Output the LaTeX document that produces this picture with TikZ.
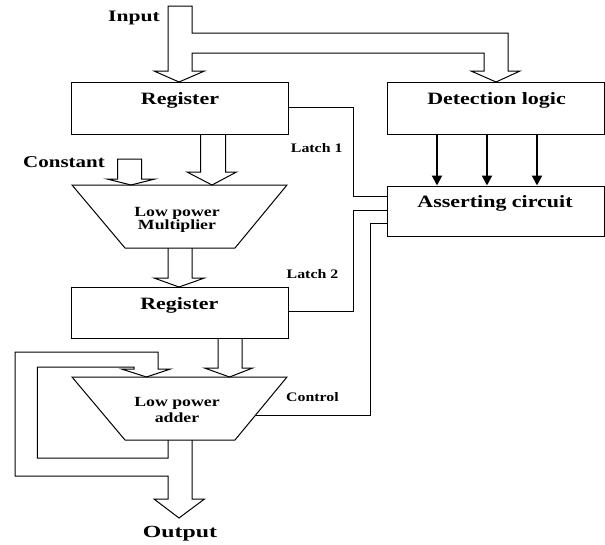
\documentclass[tikz,border=0pt]{standalone}
\usepackage{fontspec}
\setmainfont{Liberation Serif}
\usepackage{graphicx}
\usetikzlibrary{arrows.meta}
\newcommand\lbl[3][1.27]{\fontsize{#2}{#2}\selectfont\bfseries\scalebox{#1}[1]{#3}}
\tikzset{
 box/.style={draw, line width=1pt, minimum width=217pt, minimum height=52pt, inner sep=0pt},
 wire/.style={draw, line width=1pt},
 fat/.style={draw, line width=1pt, line join=miter},
 sig/.style={draw, line width=2pt, -{Triangle[length=10pt,width=10pt]}},
 txt/.style={anchor=base, inner sep=0pt},
}
\begin{document}
\begin{tikzpicture}[x=1pt,y=-1pt]
\useasboundingbox (0,0) rectangle (605,544);
% boxes
\node[box] (reg1) at (179.5,108) {};
\node[box] (det) at (495.5,108) {};
\node[box, minimum height=50pt] (assert) at (495.5,211) {};
\node[box, minimum height=51pt] (reg2) at (179.5,312.5) {};
% trapezoids
\draw[wire] (72,185) coordinate (mulTL) -- (287,185) coordinate (mulTR) -- (235,248) coordinate (mulBR) -- (125,248) coordinate (mulBL) -- cycle;
\draw[wire] (72,377) coordinate (addTL) -- (287,377) coordinate (addTR) -- (235,440) coordinate (addBR) -- (125,440) coordinate (addBL) -- cycle;
% texts
\node[txt] (inputt) at (134,21.7) {\lbl[1.35]{16}{Input}};
\node[txt] (reg1t) at (180,104) {\lbl{17.3}{Register}};
\node[txt] (dett) at (496.5,104) {\lbl{17.3}{Detection logic}};
\node[txt] (l1t) at (316.7,152.3) {\lbl[1.22]{13}{Latch 1}};
\node[txt] (constt) at (64,167.3) {\lbl{16.5}{Constant}};
\node[txt] (assertt) at (495,207) {\lbl{17.3}{Asserting circuit}};
\node[txt] (mul1) at (177,216) {\lbl{14}{Low power}};
\node[txt] (mul2) at (177,229.3) {\lbl{14}{Multiplier}};
\node[txt] (l2t) at (312.5,278) {\lbl[1.22]{13}{Latch 2}};
\node[txt] (reg2t) at (179.4,309) {\lbl{17.3}{Register}};
\node[txt] (ctrlt) at (312.5,401.7) {\lbl[1.22]{13}{Control}};
\node[txt] (add1) at (177,406.7) {\lbl{14}{Low power}};
\node[txt] (add2) at (177,422.7) {\lbl{14}{adder}};
\node[txt] (outt) at (180,537.7) {\lbl[1.4]{17}{Output}};
% input fat arrow with branch to detection logic
\draw[fat] (168,6) -- (168,71) -- (154,71) -- (179,82) -- (204.5,71) -- (192,71) -- (192,53)
  -- (484,53) -- (484,71) -- (471,71) -- (496,82) -- (520,71) -- (508,71) -- (508,33)
  -- (192,33) -- (192,6) -- cycle;
% register1 -> multiplier
\draw[fat] (reg1.south -| 200.6,0) -- (200.6,172) -- (187,172) -- (212,185) -- (236.5,172) -- (225.7,172) -- (reg1.south -| 225.7,0);
% constant
\draw[fat] (117.7,159) -- (117.7,179) -- (107,179) -- (131,185) -- (155,179) -- (141.6,179) -- (141.6,159) -- cycle;
% multiplier -> register2
\draw[fat] (168,248) -- (168,278) -- (154,278) -- (179,287) -- (204.5,278) -- (192,278) -- (192,248);
% register2 -> adder
\draw[fat] (reg2.south -| 218,0) -- (218,368) -- (204.5,368) -- (229.5,377) -- (252.7,368) -- (242,368) -- (reg2.south -| 242,0);
% adder output and feedback
\draw[fat] (192,440) -- (192,499) -- (204.5,499) -- (179,518) -- (154,499) -- (168,499) -- (168,476)
  -- (15,476) -- (15,352) -- (158,352) -- (158,369) -- (170.5,369) -- (146.5,377) -- (121.5,369)
  -- (134,369) -- (134,367) -- (37.4,367) -- (37.4,458) -- (168,458) -- (168,440);
% detection -> asserting
\draw[sig] (det.south -| 437,0) -- (assert.north -| 437,0);
\draw[sig] (det.south -| 487,0) -- (assert.north -| 487,0);
\draw[sig] (det.south -| 537,0) -- (assert.north -| 537,0);
% latch and control lines
\draw[wire] (reg1.east |- 0,107.7) -- (353.4,107.7) -- (353.4,196.7) -- (assert.west |- 0,196.7);
\draw[wire] (assert.west |- 0,210) -- (353.4,210) -- (353.4,311.7) -- (reg2.east |- 0,311.7);
\draw[wire] (assert.west |- 0,223.3) -- (370.4,223.3) -- (370.4,415) -- (255.6,415);
\end{tikzpicture}
\end{document}
